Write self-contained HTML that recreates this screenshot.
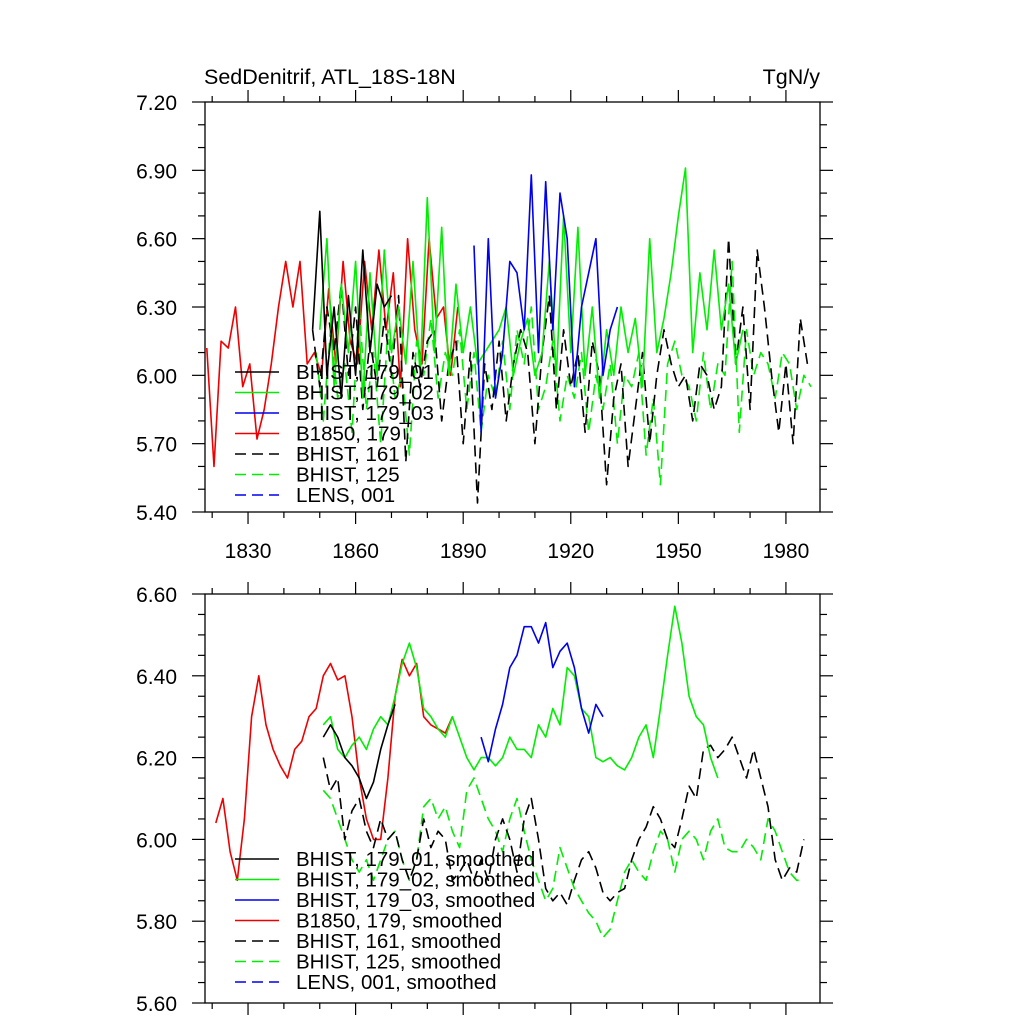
<!DOCTYPE html>
<html><head><meta charset="utf-8">
<style>
html,body{margin:0;padding:0;background:#fff;}
svg{display:block;font-family:"Liberation Sans",sans-serif;}
</style></head>
<body>
<svg id="chart" width="1024" height="1024" viewBox="0 0 1024 1024" xmlns="http://www.w3.org/2000/svg">
<text x="204" y="84" font-size="21.5">SedDenitrif, ATL_18S-18N</text>
<text x="820" y="84" font-size="21.5" text-anchor="end">TgN/y</text>
<g id="top"></g>
<g id="bot"></g>
</svg>
<script>
// ---------- data: top panel (annual values sampled every 2 years) ----------
const topRedStart = 1818.5;
const topRed = [6.12,5.6,6.15,6.12,6.3,5.95,6.05,5.72,5.85,6.05,6.3,6.5,6.3,6.5,6.05,6.1,6.0,6.38,6.05,6.5,6.15,6.05,6.5,6.2,6.55,6.2,6.45,5.95,6.6,6.2,6.05,6.6,6.25,6.3,6.0,6.3];
const topGreenStart = 1850;
const topGreen = [6.2,6.6,5.95,6.4,6.1,6.5,5.9,6.45,6.0,6.55,6.1,6.3,6.05,6.5,6.0,6.78,6.1,6.65,6.0,6.4,
 6.1,6.3,6.05,6.1,6.15,6.2,6.3,6.0,6.15,6.25,6.0,6.1,6.5,6.0,6.7,6.1,6.65,6.0,6.3,5.9,
 6.2,6.0,6.3,6.1,6.25,5.95,6.6,6.1,6.25,6.45,6.7,6.91,6.1,6.45,6.2,6.55,6.2,6.4,6.05,6.2];
const topBlueStart = 1893;
const topBlue = [6.57,5.75,6.6,5.9,6.1,6.5,6.45,6.2,6.88,6.1,6.85,6.2,6.8,6.6,5.95,6.3,6.45,6.6,6.0,6.2,6.3];
const topBlackStart = 1848;
const topBlack = [6.2,6.72,6.0,6.3,5.9,6.35,6.0,6.55,6.1,6.4,6.3,6.35];
const topBlackDashStart = 1848;
const topBlackDash = [6.2,5.95,6.3,6.1,6.4,6.0,6.3,5.85,6.15,5.95,6.25,6.0,6.35,5.62,6.1,5.95,6.15,6.2,5.8,6.05,
 6.15,5.7,6.1,5.44,6.05,5.85,6.15,5.8,6.05,6.2,6.1,5.7,6.1,6.35,5.85,6.2,5.95,6.1,5.75,6.15,
 6.0,5.52,5.9,6.05,5.6,5.85,6.1,5.7,6.0,6.2,6.05,5.95,6.0,5.8,6.05,6.0,5.85,5.95,6.6,6.05,
 6.3,5.85,6.55,6.3,6.0,5.75,6.05,5.7,6.25,6.05];
const topGreenDashStart = 1849;
const topGreenDash = [6.1,5.8,6.2,5.9,6.05,5.75,6.3,5.85,6.1,5.7,6.2,5.9,6.0,5.65,6.15,6.0,6.25,5.9,6.1,6.0,
 6.2,5.85,6.1,5.75,6.0,5.9,6.15,5.85,6.2,6.05,6.3,5.85,5.95,6.15,5.8,6.0,5.9,6.1,5.75,6.0,
 5.85,6.05,5.7,6.0,5.95,6.1,5.65,5.9,5.52,6.05,6.15,6.0,5.95,5.8,6.1,5.85,6.05,6.0,6.5,5.75,
 6.2,6.0,6.1,6.05,5.9,6.1,6.05,5.85,6.0,5.95];
// ---------- data: bottom panel (smoothed) ----------
const botRedStart = 1821;
const botRed = [6.04,6.1,5.97,5.9,6.05,6.3,6.4,6.28,6.22,6.18,6.15,6.22,6.24,6.3,6.32,6.4,6.43,6.39,6.4,6.3,6.15,6.05,6.0,6.0,6.15,6.35,6.44,6.4,6.43,6.3,6.28,6.27,6.26,6.3];
const botBlackStart = 1851;
const botBlack = [6.25,6.28,6.25,6.2,6.18,6.15,6.1,6.14,6.22,6.28,6.33];
const botGreenStart = 1851;
const botGreen = [6.28,6.3,6.22,6.2,6.23,6.25,6.22,6.27,6.3,6.28,6.35,6.43,6.48,6.42,6.32,6.3,6.27,6.25,6.3,6.25,
 6.2,6.17,6.2,6.2,6.18,6.2,6.25,6.22,6.22,6.2,6.28,6.25,6.32,6.28,6.42,6.4,6.32,6.3,6.2,6.19,
 6.2,6.18,6.17,6.2,6.25,6.28,6.2,6.32,6.45,6.57,6.48,6.35,6.3,6.28,6.2,6.15];
const botBlueStart = 1895;
const botBlue = [6.25,6.19,6.27,6.33,6.42,6.45,6.52,6.52,6.48,6.53,6.42,6.46,6.48,6.42,6.32,6.26,6.33,6.3];
const botBlackDashStart = 1851;
const botBlackDash = [6.2,6.12,6.15,6.0,6.07,6.1,6.02,5.98,6.05,6.0,6.02,5.95,5.9,5.95,6.05,5.98,6.02,6.0,5.9,5.92,
 5.95,5.9,5.95,5.9,6.0,6.05,6.0,5.92,6.05,6.1,6.0,5.88,5.85,5.87,5.84,5.9,5.95,5.97,5.93,5.87,
 5.85,5.87,5.88,5.95,6.0,6.03,6.08,6.05,6.0,5.98,6.05,6.13,6.1,6.22,6.23,6.2,6.22,6.25,6.2,6.15,
 6.22,6.15,6.08,5.95,5.9,5.93,5.92,6.0];
const botGreenDashStart = 1851;
const botGreenDash = [6.12,6.1,6.05,6.0,5.95,5.92,5.95,5.9,5.95,6.0,6.02,5.95,5.9,5.95,6.08,6.1,6.05,6.08,6.02,5.98,
 6.12,6.15,6.1,6.05,6.02,5.97,6.05,6.1,6.02,5.95,5.9,5.85,5.88,5.98,5.93,5.88,5.85,5.82,5.8,5.76,
 5.78,5.85,5.92,5.95,5.92,5.9,5.97,6.02,6.0,5.92,6.0,6.02,6.0,5.95,6.02,6.05,5.98,5.97,5.97,6.0,
 5.98,5.95,6.05,6.02,5.97,5.92,5.9,5.9];
const xTickLabels = [1830,1860,1890,1920,1950,1980];
const topYTicks = [5.40,5.70,6.00,6.30,6.60,6.90,7.20];
const botYTicks = [5.60,5.80,6.00,6.20,6.40,6.60];
const topLegend = ["BHIST, 179_01","BHIST, 179_02","BHIST, 179_03","B1850, 179","BHIST, 161","BHIST, 125","LENS, 001"];
const botLegend = ["BHIST, 179_01, smoothed","BHIST, 179_02, smoothed","BHIST, 179_03, smoothed","B1850, 179, smoothed","BHIST, 161, smoothed","BHIST, 125, smoothed","LENS, 001, smoothed"];

const NS = "http://www.w3.org/2000/svg";
const X0=205, X1=820, XMIN=1818, XMAX=1989.5;
function xs(yr){return X0+(yr-XMIN)/(XMAX-XMIN)*(X1-X0);}
function mk(tag,attrs,parent){const e=document.createElementNS(NS,tag);for(const k in attrs)e.setAttribute(k,attrs[k]);parent.appendChild(e);return e;}

function panel(g,Y0,Y1,ymin,ymax,yTicks,yMinorStep,showX,series,legend,legY){
  const ys=v=>Y1-(v-ymin)/(ymax-ymin)*(Y1-Y0);
  const fr=mk('rect',{x:X0,y:Y0,width:X1-X0,height:Y1-Y0,fill:'none',stroke:'#000','stroke-width':1.3},g);
  
  
  for(let yr=1820;yr<=1989;yr+=10){
    const major=(yr-1830)%30===0, L=major?12:6, x=xs(yr);
    const t1=mk('line',{x1:x,x2:x,y1:Y1,y2:Y1+L,stroke:'#000','stroke-width':1.2},g);
    
    
    const t2=mk('line',{x1:x,x2:x,y1:Y0,y2:Y0-L,stroke:'#000','stroke-width':1.2},g);
    
    
  }
  if(showX){xTickLabels.forEach(yr=>{
    const t=mk('text',{x:xs(yr),y:Y1+46,'font-size':21,'text-anchor':'middle'},g);t.textContent=yr;
    
    
  });}
  const n=Math.round((ymax-ymin)/yMinorStep);
  for(let i=0;i<=n;i++){
    const v=ymin+i*yMinorStep, y=ys(v);
    const major=yTicks.some(t=>Math.abs(t-v)<1e-6), L=major?13:7;
    const a=mk('line',{x1:X0-L,x2:X0,y1:y,y2:y,stroke:'#000','stroke-width':1.2},g);
    
    
    const b=mk('line',{x1:X1,x2:X1+L,y1:y,y2:y,stroke:'#000','stroke-width':1.2},g);
    
    
  }
  yTicks.forEach(v=>{
    const t=mk('text',{x:177,y:ys(v)+8,'font-size':21,'text-anchor':'end'},g);t.textContent=v.toFixed(2);
    
    
  });
  series.forEach(s=>{
    const pts=s.vals.map((v,i)=>xs(s.start+2*i).toFixed(1)+','+ys(v).toFixed(1)).join(' ');
    const p=mk('polyline',{points:pts,fill:'none',stroke:s.c,'stroke-width':1.6,'stroke-linejoin':'round'},g);
    if(s.d)p.setAttribute('stroke-dasharray','11,6');
    
    
  });
  const styles=[['#000',0],['#00ee00',0],['#0000ee',0],['#ee0000',0],['#000',1],['#00ee00',1],['#0000ee',1]];
  legend.forEach((lab,i)=>{
    const y=legY+i*20.5;
    const l=mk('line',{x1:235,x2:279,y1:y,y2:y,stroke:styles[i][0],'stroke-width':1.6},g);
    if(styles[i][1])l.setAttribute('stroke-dasharray','11,6');
    
    
    const t=mk('text',{x:296,y:y+7,'font-size':20.5},g);t.textContent=lab;
    
    
  });
}
panel(document.getElementById('top'),102,512,5.4,7.2,topYTicks,0.1,true,[
 {vals:topRed,start:topRedStart,c:'#ee0000',name:'b1850-179-line'},
 {vals:topGreenDash,start:topGreenDashStart,c:'#00ee00',d:1,name:'bhist-125-line'},
 {vals:topBlackDash,start:topBlackDashStart,c:'#000',d:1,name:'bhist-161-line'},
 {vals:topGreen,start:topGreenStart,c:'#00ee00',name:'bhist-179-02-line'},
 {vals:topBlue,start:topBlueStart,c:'#0000ee',name:'bhist-179-03-line'},
 {vals:topBlack,start:topBlackStart,c:'#000',name:'bhist-179-01-line'}
],topLegend,372);
panel(document.getElementById('bot'),594,1003,5.6,6.6,botYTicks,0.05,false,[
 {vals:botRed,start:botRedStart,c:'#ee0000',name:'b1850-179-smoothed-line'},
 {vals:botGreenDash,start:botGreenDashStart,c:'#00ee00',d:1,name:'bhist-125-smoothed-line'},
 {vals:botBlackDash,start:botBlackDashStart,c:'#000',d:1,name:'bhist-161-smoothed-line'},
 {vals:botGreen,start:botGreenStart,c:'#00ee00',name:'bhist-179-02-smoothed-line'},
 {vals:botBlue,start:botBlueStart,c:'#0000ee',name:'bhist-179-03-smoothed-line'},
 {vals:botBlack,start:botBlackStart,c:'#000',name:'bhist-179-01-smoothed-line'}
],botLegend,859);
</script>
</body></html>
